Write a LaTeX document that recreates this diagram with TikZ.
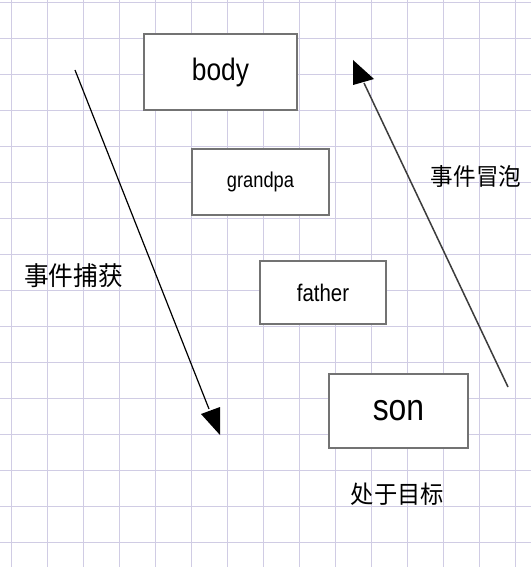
\documentclass[tikz,border=0pt]{standalone}
\usepackage{fontspec}
\setmainfont{Liberation Sans}
\newfontfamily\boxfont{Liberation Sans}[FakeStretch=0.85]
\newfontfamily\cjk{Noto Sans CJK SC}[FakeStretch=0.95]
\definecolor{gridc}{RGB}{208,204,228}
\definecolor{boxc}{RGB}{115,115,115}
\definecolor{arrc}{RGB}{60,60,60}
\tikzset{
  boxnode/.style={draw=boxc, line width=1.4pt, fill=white, inner sep=0pt, font=\boxfont},
  lbl/.style={inner sep=0pt, font=\cjk},
  arrline/.style={line width=1.2pt},
}
\begin{document}
\begin{tikzpicture}[x=1pt,y=-1pt]
\useasboundingbox (0,0) rectangle (531,567);
\fill[white] (0,0) rectangle (531,567);
% grid
\foreach \k in {0,...,14} {\draw[gridc, line width=0.9pt] ({11.5+36*\k},0) -- ({11.5+36*\k},567);}
\foreach \k in {0,...,15} {\draw[gridc, line width=0.9pt] (0,{2+36*\k}) -- (531,{2+36*\k});}
% boxes
\node[boxnode, minimum width=153pt, minimum height=76pt] (body) at (220.5,72) {\fontsize{31}{31}\selectfont body};
\node[boxnode, minimum width=137pt, minimum height=66pt] (grandpa) at (260.5,182) {\fontsize{21.5}{21.5}\selectfont grandpa};
\node[boxnode, minimum width=126pt, minimum height=63pt] (father) at (323,292.5) {\fontsize{24}{24}\selectfont father};
\node[boxnode, minimum width=139pt, minimum height=74pt] (son) at (398.5,411) {\fontsize{37.5}{37.5}\selectfont son};
% labels
\node[lbl] (capture) at (73.5,276) {\fontsize{26}{26}\selectfont 事件捕获};
\node[lbl] (bubble) at (476,176) {\fontsize{23.8}{23.8}\selectfont 事件冒泡};
\node[lbl] (target) at (397.5,494) {\fontsize{24.5}{24.5}\selectfont 处于目标};
% capture arrow
\coordinate (cs) at (75,70);
\coordinate (ce) at (209,409);
\coordinate (ct) at (220,435);
\draw[arrline, black] (cs) -- (ce);
\fill[black] (201,414) -- (220,407) -- (ct) -- cycle;
% bubble arrow
\coordinate (bs) at (508,387);
\coordinate (be) at (364,83);
\coordinate (bt) at (353,60);
\draw[arrline, arrc, line width=1.5pt] (bs) -- (be);
\fill[black] (bt) -- (374,79) -- (353,85) -- cycle;
\end{tikzpicture}
\end{document}
